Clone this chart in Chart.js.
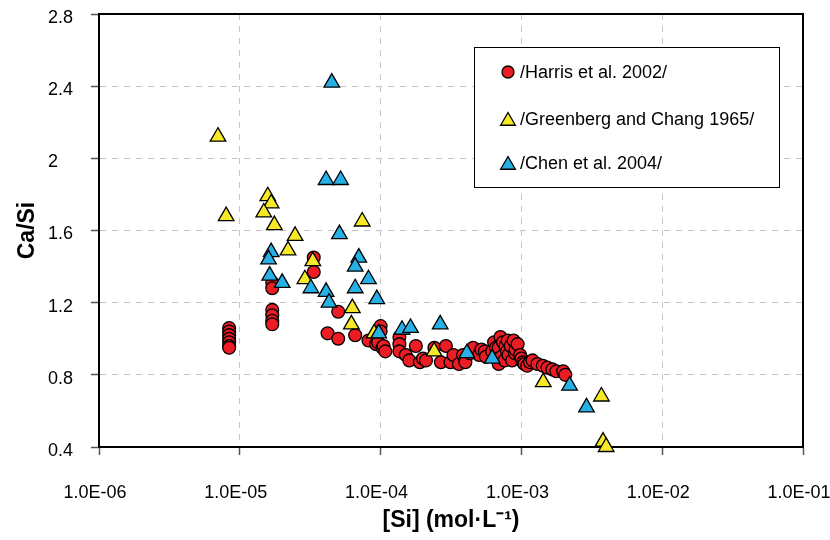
<!DOCTYPE html>
<html>
<head>
<meta charset="utf-8">
<script src="https://cdn.jsdelivr.net/npm/chart.js@4.4.1/dist/chart.umd.min.js"></script>
<style>
    html, body { margin: 0; padding: 0; background: #fff; }
</style>
</head>
<body>
<canvas id="chart" width="830" height="540"></canvas>
<script>
// ============================================================
// Data
// ============================================================

const SERIES_NAMES = ['/Harris et al. 2002/', '/Greenberg and Chang 1965/', '/Chen et al. 2004/'];

const X_TICKS = [1e-6, 1e-5, 1e-4, 1e-3, 1e-2, 1e-1];
const Y_TICKS = [0.4, 0.8, 1.2, 1.6, 2.0, 2.4, 2.8];

// Harris et al. 2002 (red circles)
const HARRIS_SI = [
    8.4e-6, 8.4e-6, 8.4e-6, 8.4e-6, 8.4e-6, 8.4e-6, 8.4e-6,
    1.7e-5, 1.7e-5, 1.7e-5, 1.7e-5, 1.7e-5, 1.7e-5,
    3.35e-5, 3.35e-5, 4.2e-5, 5.0e-5, 5.0e-5, 6.6e-5, 8.2e-5, 9.3e-5, 9.6e-5,
    1.0e-4, 1.0e-4, 1.03e-4, 1.05e-4, 1.08e-4, 1.36e-4, 1.36e-4, 1.36e-4,
    1.51e-4, 1.6e-4, 1.78e-4, 1.9e-4, 2.0e-4, 2.1e-4, 2.41e-4, 2.68e-4, 2.91e-4,
    3.14e-4, 3.29e-4, 3.6e-4, 3.85e-4, 4.0e-4, 4.3e-4, 4.54e-4, 5.0e-4, 5.2e-4,
    5.5e-4, 5.6e-4, 6.2e-4, 6.4e-4, 6.6e-4, 6.9e-4, 6.9e-4, 7.1e-4, 7.2e-4,
    7.4e-4, 7.6e-4, 7.7e-4, 7.9e-4, 8.0e-4, 8.1e-4, 8.4e-4, 8.6e-4, 8.8e-4,
    9.0e-4, 9.1e-4, 9.4e-4, 9.8e-4, 1.0e-3, 1.03e-3, 1.05e-3, 1.1e-3, 1.15e-3,
    1.2e-3, 1.3e-3, 1.42e-3, 1.53e-3, 1.66e-3, 1.77e-3, 1.98e-3, 2.05e-3
];
const HARRIS_CASI = [
    1.06, 1.04, 1.02, 1.00, 0.98, 0.96, 0.95,
    1.31, 1.28, 1.16, 1.13, 1.10, 1.08,
    1.45, 1.37, 1.03, 1.15, 1.00, 1.02, 0.99, 0.97, 0.98,
    1.07, 1.04, 0.95, 0.96, 0.93, 1.01, 0.97, 0.93,
    0.91, 0.88, 0.96, 0.87, 0.89, 0.88, 0.95, 0.87, 0.96,
    0.87, 0.91, 0.86, 0.91, 0.87, 0.92, 0.95, 0.91, 0.94,
    0.93, 0.90, 0.93, 0.98, 0.95, 0.95, 0.86, 1.01, 0.90,
    0.98, 0.88, 0.96, 0.93, 0.99, 0.91, 0.96, 0.88, 0.99,
    0.92, 0.94, 0.97, 0.91, 0.89, 0.87, 0.86, 0.85, 0.87,
    0.88, 0.86, 0.85, 0.84, 0.83, 0.82, 0.82, 0.80
];

// Greenberg and Chang 1965 (yellow triangles)
const GREENBERG_SI = [
    7.0e-6, 8.0e-6, 1.58e-5, 1.67e-5, 1.48e-5, 1.76e-5, 2.47e-5, 2.2e-5, 3.3e-5,
    2.9e-5, 7.4e-5, 6.3e-5, 6.2e-5, 9.0e-5, 2.4e-4, 1.43e-3, 3.7e-3, 3.8e-3, 4.0e-3
];
const GREENBERG_CASI = [
    2.12, 1.68, 1.79, 1.75, 1.70, 1.63, 1.57, 1.49, 1.43,
    1.33, 1.65, 1.17, 1.08, 1.03, 0.93, 0.76, 0.68, 0.43, 0.40
];

// Chen et al. 2004 (blue triangles)
const CHEN_SI = [
    4.5e-5, 4.1e-5, 5.2e-5, 5.1e-5, 1.67e-5, 1.6e-5, 1.63e-5, 2.0e-5, 3.2e-5,
    4.1e-5, 4.3e-5, 7.0e-5, 6.6e-5, 8.2e-5, 6.6e-5, 9.4e-5, 9.7e-5, 1.42e-4,
    1.63e-4, 2.65e-4, 4.1e-4, 6.2e-4, 2.2e-3, 2.9e-3
];
const CHEN_CASI = [
    2.42, 1.88, 1.88, 1.58, 1.48, 1.44, 1.35, 1.31, 1.28,
    1.26, 1.20, 1.45, 1.40, 1.33, 1.28, 1.22, 1.03, 1.05,
    1.06, 1.08, 0.92, 0.89, 0.74, 0.62
];

const FONT = "'Liberation Sans', Arial, sans-serif";

function toPoints(xs, ys) {
    return xs.map((x, i) => ({ x: x, y: ys[i] }));
}

// Scientific label like 1.0E-06
function sciLabel(value) {
    const e = Math.round(Math.log10(value));
    return '1.0E' + (e < 0 ? '-' : '+') + String(Math.abs(e)).padStart(2, '0');
}

// ============================================================
// Plugins: frame on top/right and the boxed legend
// ============================================================

const framePlugin = {
    id: 'frame',
    afterDraw(chart) {
        const { ctx, chartArea: a } = chart;
        ctx.save();
        ctx.strokeStyle = '#000';
        ctx.lineWidth = 2;
        ctx.beginPath();
        ctx.moveTo(a.left, a.top);
        ctx.lineTo(a.right, a.top);
        ctx.lineTo(a.right, a.bottom);
        ctx.stroke();
        ctx.restore();
    }
};

const boxLegendPlugin = {
    id: 'boxLegend',
    afterDraw(chart) {
        const ctx = chart.ctx;
        const box = { x: 474.5, y: 47.5, w: 305, h: 140 };
        const rows = [72, 119, 163];
        ctx.save();
        ctx.fillStyle = '#fff';
        ctx.strokeStyle = '#000';
        ctx.lineWidth = 1;
        ctx.fillRect(box.x, box.y, box.w, box.h);
        ctx.strokeRect(box.x, box.y, box.w, box.h);

        chart.data.datasets.forEach((ds, i) => {
            const y = rows[i];
            ctx.fillStyle = ds.backgroundColor;
            ctx.strokeStyle = ds.borderColor;
            ctx.lineWidth = ds.borderWidth;
            const r = ds.pointStyle === 'triangle' ? 8.5 : 6;
            const dy = ds.pointStyle === 'triangle' ? 2 : 0;
            Chart.helpers.drawPoint(ctx, {
                pointStyle: ds.pointStyle, radius: r, rotation: 0, borderWidth: ds.borderWidth
            }, 508, y + dy);
            ctx.fillStyle = '#000';
            ctx.font = '18px ' + FONT;
            ctx.textBaseline = 'middle';
            ctx.textAlign = 'left';
            ctx.fillText(ds.label, 520, y + 1);
        });
        ctx.restore();
    }
};

// ============================================================
// Chart
// ============================================================

const ctx = document.getElementById('chart');

new Chart(ctx, {
    type: 'scatter',
    data: {
        datasets: [
            {
                label: SERIES_NAMES[0],
                data: toPoints(HARRIS_SI, HARRIS_CASI),
                pointStyle: 'circle',
                pointRadius: 6.4,
                backgroundColor: '#ec1c24',
                borderColor: '#000',
                borderWidth: 1.3,
                order: 3,
                clip: false
            },
            {
                label: SERIES_NAMES[1],
                data: toPoints(GREENBERG_SI, GREENBERG_CASI),
                pointStyle: 'triangle',
                pointRadius: 9,
                backgroundColor: '#f7e928',
                borderColor: '#000',
                borderWidth: 1.3,
                order: 2,
                clip: false
            },
            {
                label: SERIES_NAMES[2],
                data: toPoints(CHEN_SI, CHEN_CASI),
                pointStyle: 'triangle',
                pointRadius: 9,
                backgroundColor: '#27b0e6',
                borderColor: '#000',
                borderWidth: 1.3,
                order: 1,
                clip: false
            }
        ]
    },
    options: {
        responsive: false,
        animation: false,
        layout: {
            padding: { top: 14, right: 27, left: 48, bottom: 0 }
        },
        plugins: {
            legend: { display: false },
            tooltip: { enabled: false }
        },
        scales: {
            x: {
                type: 'logarithmic',
                min: 1e-6,
                max: 1e-1,
                afterBuildTicks: axis => {
                    axis.ticks = X_TICKS.map(v => ({ value: v }));
                },
                afterFit: axis => {
                    axis.height = 93;
                    axis.paddingLeft = 0;
                    axis.paddingRight = 0;
                },
                grid: {
                    color: '#c4c4c4',
                    lineWidth: 1,
                    tickLength: 8,
                    tickColor: '#555',
                    tickWidth: 1.5
                },
                border: { color: '#000', width: 2, dash: [6, 6] },
                ticks: {
                    padding: 27,
                    labelOffset: -4,
                    maxRotation: 0,
                    color: '#000',
                    font: { family: FONT, size: 18 },
                    callback: value => sciLabel(value)
                },
                title: {
                    display: true,
                    text: '[Si] (mol·L⁻¹)',
                    color: '#000',
                    font: { family: FONT, size: 23, weight: 'bold' },
                    padding: { top: 0, bottom: 6 }
                }
            },
            y: {
                type: 'linear',
                min: 0.4,
                max: 2.8,
                afterBuildTicks: axis => {
                    axis.ticks = Y_TICKS.map(v => ({ value: v }));
                },
                afterFit: axis => {
                    axis.width = 51;
                    axis.paddingTop = 0;
                    axis.paddingBottom = 0;
                },
                grid: {
                    color: '#c4c4c4',
                    lineWidth: 1,
                    tickLength: 8,
                    tickColor: '#555',
                    tickWidth: 1.5
                },
                border: { color: '#000', width: 2, dash: [6, 6] },
                ticks: {
                    crossAlign: 'far',
                    labelOffset: 4,
                    color: '#000',
                    font: { family: FONT, size: 18 },
                    callback: value => String(Math.round(value * 10) / 10)
                },
                title: {
                    display: true,
                    text: 'Ca/Si',
                    color: '#000',
                    font: { family: FONT, size: 23, weight: 'bold' },
                    padding: { top: -34, bottom: 0 }
                }
            }
        }
    },
    plugins: [framePlugin, boxLegendPlugin]
});
</script>
</body>
</html>
